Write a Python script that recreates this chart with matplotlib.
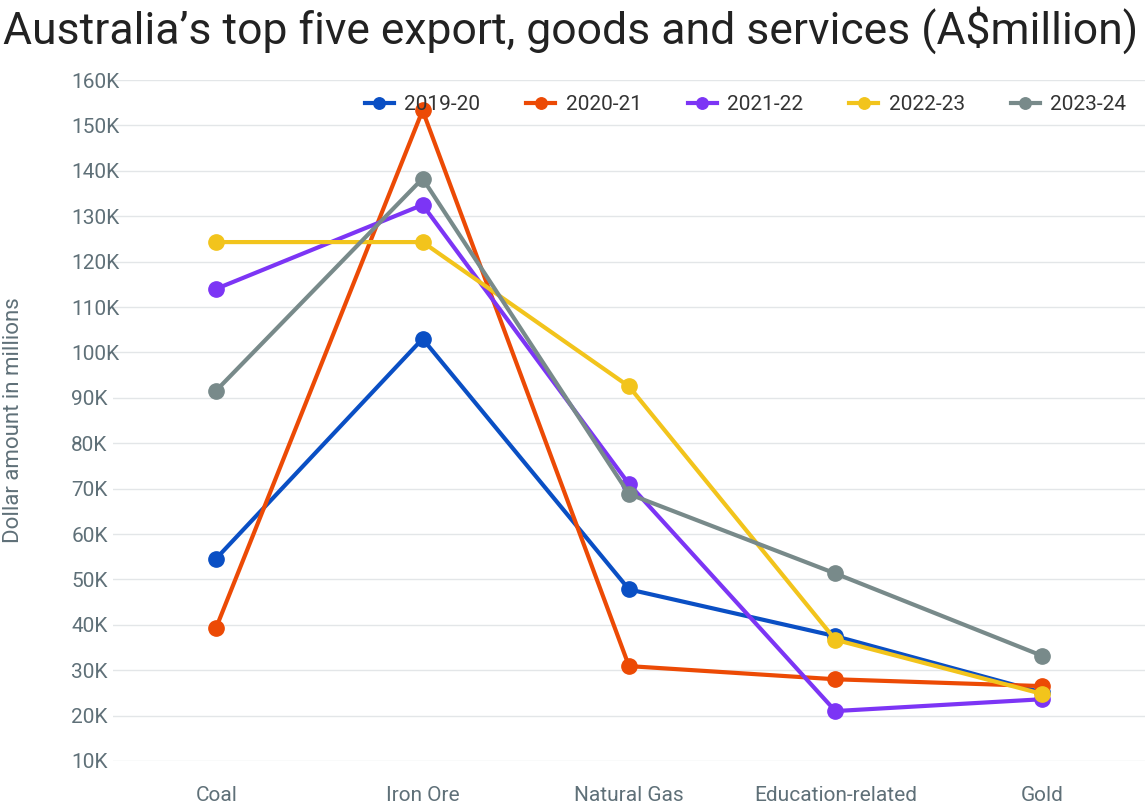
import matplotlib
matplotlib.use("Agg")
import matplotlib.pyplot as plt
from matplotlib.ticker import FuncFormatter

categories = ["Coal", "Iron Ore", "Natural Gas", "Education-related", "Gold"]
series_names = ["2019-20", "2020-21", "2021-22", "2022-23", "2023-24"]
v2019 = [54.6, 103.0, 47.8, 37.5, 25.1]
v2020 = [39.4, 153.3, 30.9, 28.0, 26.5]
v2021 = [114.0, 132.5, 71.0, 21.0, 23.6]
v2022 = [124.3, 124.3, 92.5, 36.7, 24.8]
v2023 = [91.6, 138.3, 68.8, 51.3, 33.2]
values = [v2019, v2020, v2021, v2022, v2023]
colors = ["#0a4fc4", "#ec4a05", "#7c35f5", "#f2c41c", "#788a8a"]

plt.rcParams['font.family'] = ['Roboto', 'DejaVu Sans']
fig = plt.figure(figsize=(11.48, 8.02), dpi=100)
ax = fig.add_axes([113/1148, 1-761/802, 1032/1148, 681/802])
x = list(range(len(categories)))
for name, vals, c in zip(series_names, values, colors):
    ax.plot(x, vals, color=c, lw=3, marker='o', ms=11, label=name, zorder=3)
ax.set_xlim(-0.5, 4.5)
ax.set_ylim(10, 160)
ax.set_yticks(range(10, 161, 10))
ax.yaxis.set_major_formatter(FuncFormatter(lambda v, p: f"{int(v)}K"))
ax.set_xticks(x)
ax.set_xticklabels(categories)
ax.grid(axis='y', color='#e3e6e8', lw=1)
ax.set_axisbelow(True)
for s in ax.spines.values():
    s.set_visible(False)
ax.tick_params(length=0, labelsize=15, labelcolor='#5f7078')
ax.tick_params(axis='x', pad=18)
ax.tick_params(axis='y', pad=30)
for lbl in ax.get_yticklabels():
    lbl.set_horizontalalignment('left')
fig.text(14/1148, 1-420/802, "Dollar amount in millions", rotation=90,
         fontsize=16, color='#5f7078', ha='center', va='center')
ax.legend(loc='upper right', ncol=5, frameon=False, fontsize=15, handlelength=1.4,
          markerscale=0.75, handletextpad=0.5,
          columnspacing=2.2, bbox_to_anchor=(1.0, 1.005), labelcolor='#333333')
fig.text(3/1148, 1-30/802, "Australia’s top five export, goods and services (A$million)",
         fontsize=32, color='#222222', va='center', ha='left')
fig.savefig("out.png", dpi=100)
